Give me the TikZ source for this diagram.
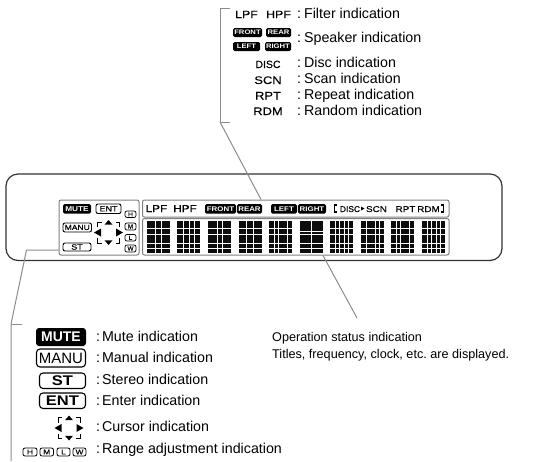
\documentclass[tikz,border=0pt]{standalone}
\usepackage{fontspec}
\setmainfont{Liberation Sans}
\frenchspacing
\newfontfamily\wideface[FakeStretch=1.18,FakeBold=0.3]{Liberation Sans}
\newfontfamily\narrowface[FakeBold=0.3]{Liberation Sans}
\newfontfamily\wideboldface[FakeStretch=1.18]{Liberation Sans}
\definecolor{leader}{gray}{0.55}
\definecolor{panel}{gray}{0.5}
\definecolor{lcd}{gray}{0.05}
\newcommand{\boxat}[7]{%
  \pgfmathsetmacro{\bxc}{(#3+#5)/2}\pgfmathsetmacro{\byc}{(#4+#6)/2}%
  \pgfmathsetmacro{\bxw}{#5-#3}\pgfmathsetmacro{\byh}{#6-#4}%
  \node[#2,minimum width=\bxw pt,minimum height=\byh pt] (#1) at (\bxc,\byc) {#7};}
\newcommand{\lcdglyph}[3]{%
  \fill[lcd] (#1,221) rectangle ++(23,31.5);
  \foreach \gx in {#2} {\fill[white] (#1+\gx-0.45,221) rectangle ++(0.9,31.5);}
  \foreach \gy in {#3} {\fill[white] (#1,221+\gy-0.45) rectangle ++(23,0.9);}
}
\newcommand{\colA}{:\hspace{-1pt} }
\newcommand{\colB}{:\hspace{-2pt} }
\tikzset{
  x=1pt,y=-1pt,
  desc/.style={anchor=base west,inner sep=0pt,font=\fontsize{14.25}{16}\selectfont},
  opdesc/.style={anchor=base west,inner sep=0pt,font=\fontsize{12.65}{15}\selectfont},
  keytxt/.style={anchor=base,inner sep=0pt,font=\wideface\fontsize{11}{12}\selectfont},
  lcdtxt/.style={anchor=base,inner sep=0pt,font=\wideface\fontsize{8.4}{10}\selectfont},
  blackkey/.style={rectangle,rounded corners=#1,fill=black,text=white,inner sep=0pt},
  blackkey/.default=1.5pt,
  linekey/.style={rectangle,rounded corners=#1,draw=black,line width=0.9pt,fill=white,inner sep=0pt},
  linekey/.default=2.5pt,
  panelbox/.style={rectangle,rounded corners=2pt,draw=panel,line width=1pt,inner sep=0pt},
  leaderline/.style={draw=leader,line width=1pt},
  cursorsym/.pic={
    \draw[black,line width=0.8pt] (-11,-5.5)--(-11,-10.5)--(-7,-10.5);
    \draw[black,line width=0.8pt] (11,-5.5)--(11,-10.5)--(7,-10.5);
    \draw[black,line width=0.8pt] (-11,5.5)--(-11,10.5)--(-7,10.5);
    \draw[black,line width=0.8pt] (11,5.5)--(11,10.5)--(7,10.5);
    \fill[black] (0,-12.5)--(4,-7.8)--(-4,-7.8)--cycle;
    \fill[black] (0,12.5)--(4,7.8)--(-4,7.8)--cycle;
    \fill[black] (-14.5,0)--(-7.5,-4)--(-7.5,4)--cycle;
    \fill[black] (14.5,0)--(7.5,-4)--(7.5,4)--cycle;
  }
}
\begin{document}
\begin{tikzpicture}
\useasboundingbox (0,0) rectangle (535,461);
% display body
\boxat{body}{rectangle,rounded corners=12pt,draw=black!80,line width=1.2pt,inner sep=0pt}{6}{174}{502}{260.5}{}
\boxat{leftpanel}{panelbox}{59}{200}{139}{255}{}
\boxat{toppanel}{panelbox}{142.5}{200}{449}{217}{}
\boxat{matrixpanel}{panelbox}{142.5}{218.5}{449}{255}{}
% dot matrix
\lcdglyph{147}{8,14}{7,13,22,27}
\lcdglyph{177}{6.5,12,17}{7,13,22,27}
\lcdglyph{208}{9.5,14}{7,13,22,27}
\lcdglyph{239}{7,14.5}{7,13,22,27}
\lcdglyph{269}{5,9.5,18}{7,13,22,27}
\lcdglyph{300}{11.5}{10,13,22,27}
\lcdglyph{330}{5,9.5,14,18}{7,13,22,27}
\lcdglyph{361}{5,14,18}{7,13,22,27}
\lcdglyph{391}{5,9.5,18}{7,13,22,27}
\lcdglyph{422}{5,9.5,14,18}{7,13,22,27}
% display: left panel
\boxat{dmute}{blackkey}{63}{204}{91}{213.5}{\wideboldface\bfseries\fontsize{7}{8}\selectfont MUTE}
\boxat{dent}{linekey=2pt}{96}{204}{121}{213.5}{\wideface\fontsize{7.6}{8}\selectfont ENT}
\boxat{dmanu}{linekey=2pt}{63}{223}{91.5}{232}{\wideface\fontsize{7.2}{8}\selectfont MANU}
\boxat{dst}{linekey=2pt}{63}{243}{91}{251}{\wideface\fontsize{7.6}{8}\selectfont ST}
\boxat{dh}{linekey=2pt,line width=.7pt}{125}{211}{136}{217.5}{\wideface\fontsize{5.8}{6}\selectfont H}
\boxat{dm}{linekey=2pt,line width=.7pt}{125}{223}{136}{230}{\narrowface\fontsize{6.4}{6}\selectfont M}
\boxat{dl}{linekey=2pt,line width=.7pt}{125}{234.5}{136}{241}{\wideface\fontsize{5.8}{6}\selectfont L}
\boxat{dw}{linekey=2pt,line width=.7pt}{125}{245}{136}{252}{\narrowface\fontsize{6.4}{6}\selectfont W}
\pic at (108.5,232.5) {cursorsym};
% display: top panel
\node[lcdtxt,font=\wideface\fontsize{10}{12}\selectfont] (dlpf) at (156.5,212) {LPF};
\node[lcdtxt,font=\wideface\fontsize{10}{12}\selectfont] (dhpf) at (185,212) {HPF};
\boxat{dfront}{blackkey}{205}{204}{236}{213.5}{\wideboldface\bfseries\fontsize{6.7}{8}\selectfont FRONT}
\boxat{drear}{blackkey}{237}{204}{262}{213.5}{\wideboldface\bfseries\fontsize{6.7}{8}\selectfont REAR}
\boxat{dleft}{blackkey}{271}{204}{297}{213.5}{\wideboldface\bfseries\fontsize{6.7}{8}\selectfont LEFT}
\boxat{dright}{blackkey}{298}{204}{326}{213.5}{\wideboldface\bfseries\fontsize{6.7}{8}\selectfont RIGHT}
\draw[black,line width=1.5pt] (337,205)--(334.5,205)--(334.5,212)--(337,212);
\draw[black,line width=1.5pt] (441,205)--(443.5,205)--(443.5,212)--(441,212);
\node[lcdtxt,font=\narrowface\fontsize{8.4}{10}\selectfont] (ddisc) at (350,212) {DISC};
\fill[black] (361,206.5)--(364.5,208.5)--(361,210.5)--cycle;
\node[lcdtxt] (dscn) at (376.5,212) {SCN};
\node[lcdtxt] (drpt) at (405.5,212) {RPT};
\node[lcdtxt] (drdm) at (428.5,212) {RDM};
% top legend
\node[keytxt,font=\wideface\fontsize{10.5}{12}\selectfont] (klpf) at (246.5,18) {LPF};
\node[keytxt,font=\wideface\fontsize{10.5}{12}\selectfont] (khpf) at (278.5,18) {HPF};
\boxat{kfront}{blackkey}{233}{28}{262}{37}{\wideboldface\bfseries\fontsize{6.5}{8}\selectfont FRONT}
\boxat{krear}{blackkey}{266}{28}{291}{37}{\wideboldface\bfseries\fontsize{6.5}{8}\selectfont REAR}
\boxat{kleft}{blackkey}{233}{42}{260}{51}{\wideboldface\bfseries\fontsize{6.5}{8}\selectfont LEFT}
\boxat{kright}{blackkey}{265}{42}{291}{51}{\wideboldface\bfseries\fontsize{6.5}{8}\selectfont RIGHT}
\node[keytxt,font=\narrowface\fontsize{10.5}{12}\selectfont] (kdisc) at (268,68) {DISC};
\node[keytxt] (kscn) at (268,84) {SCN};
\node[keytxt] (krpt) at (268,99.5) {RPT};
\node[keytxt] (krdm) at (268,115) {RDM};
\node[desc] (tfilter) at (297,18) {\colA Filter indication};
\node[desc] (tspeaker) at (297,42) {\colA Speaker indication};
\node[desc] (tdisc) at (297,67) {\colA Disc indication};
\node[desc] (tscan) at (297,83) {\colA Scan indication};
\node[desc] (trepeat) at (297,99) {\colA Repeat indication};
\node[desc] (trandom) at (297,115) {\colA Random indication};
% bottom legend
\boxat{kmute}{blackkey=3pt}{36}{328}{86}{346}{\fontsize{14}{16}\selectfont\bfseries MUTE}
\boxat{kmanu}{linekey=3.5pt,line width=1.1pt}{36.5}{349}{85.5}{367}{\fontsize{15}{16}\selectfont MANU}
\boxat{kst}{linekey=3.5pt,line width=1.1pt}{39.5}{373}{85.5}{388.5}{\wideboldface\bfseries\fontsize{14}{16}\selectfont ST}
\boxat{kent}{linekey=3.5pt,line width=1.1pt}{39.5}{393}{85.5}{408.5}{\wideboldface\bfseries\fontsize{14}{16}\selectfont ENT}
\pic at (69,428) {cursorsym};
\boxat{kh}{linekey=2pt,line width=.8pt}{23}{448}{37}{456}{\wideface\fontsize{7}{7}\selectfont H}
\boxat{km}{linekey=2pt,line width=.8pt}{40}{448}{53.5}{456}{\wideface\fontsize{7}{7}\selectfont M}
\boxat{kl}{linekey=2pt,line width=.8pt}{57}{448}{70}{456}{\wideface\fontsize{7}{7}\selectfont L}
\boxat{kw}{linekey=2pt,line width=.8pt}{73}{448}{86}{456}{\wideface\fontsize{7}{7}\selectfont W}
\node[desc] (tmute) at (96,341) {\colB Mute indication};
\node[desc] (tmanu) at (96,362) {\colB Manual indication};
\node[desc] (tst) at (96,384) {\colB Stereo indication};
\node[desc] (tent) at (96,405) {\colB Enter indication};
\node[desc] (tcur) at (96,431) {\colB Cursor indication};
\node[desc] (trng) at (96,453) {\colB Range adjustment indication};
\node[opdesc] (top1) at (272,341) {Operation status indication};
\node[opdesc] (top2) at (272,358) {Titles, frequency, clock, etc. are displayed.};
% leaders
\coordinate (ttick1) at (230,8);
\coordinate (ttop) at (220,8);
\coordinate (tbot) at (220,122);
\coordinate (ttick2) at (230,122);
\draw[leaderline] (ttick1)--(ttop)--(tbot)--(ttick2);
\coordinate (tend) at (261,199.5);
\draw[leaderline] (tbot)--(tend);
\coordinate (bjoin) at (26.5,250);
\coordinate (btop) at (11,324);
\coordinate (btick) at (22,324);
\coordinate (bend) at (11,461);
\draw[leaderline] (leftpanel.west|-bjoin)--(bjoin)--(btop)--(bend);
\draw[leaderline] (btop)--(btick);
\coordinate (ostart) at (323,255.5);
\coordinate (oend) at (357,318);
\draw[leaderline] (ostart)--(oend);
\end{tikzpicture}
\end{document}
